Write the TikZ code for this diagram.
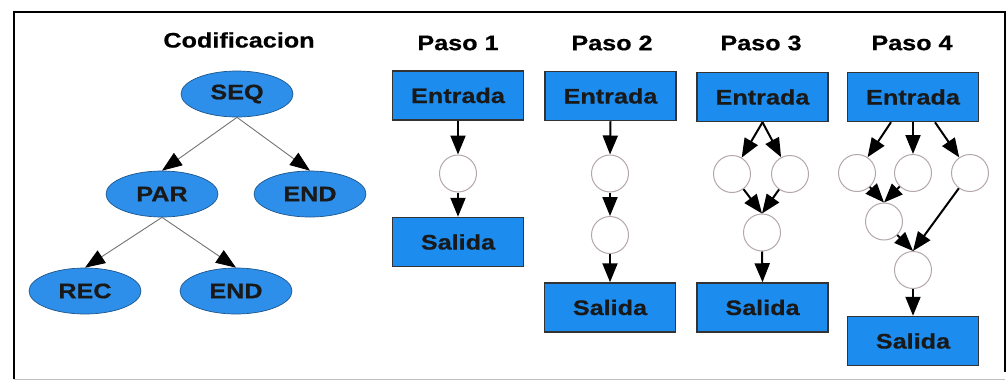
\documentclass[tikz,border=0pt]{standalone}
\usepackage{fontspec}
\setmainfont[FakeStretch=1.2,FakeBold=0.6]{Liberation Sans}
\usetikzlibrary{shapes.geometric,arrows.meta}
\definecolor{ellblue}{HTML}{2E8FEA}
\definecolor{boxblue}{HTML}{1C8CEE}
\definecolor{boxedge}{HTML}{333333}
\definecolor{circedge}{HTML}{B4A6AE}
\begin{document}
\begin{tikzpicture}[x=1pt,y=-1pt,
  txt/.style={font=\fontsize{21}{24}\selectfont\bfseries, text=black!90},
  ttl/.style={font=\fontsize{21}{24}\selectfont\bfseries, text=black},
  ell/.style={ellipse, fill=ellblue, draw=ellblue!60!black, line width=0.7pt, minimum width=112pt, minimum height=46pt, inner sep=0pt, txt},
  stepbox/.style={rectangle, fill=boxblue, draw=boxedge, line width=1.5pt, minimum width=131pt, minimum height=49pt, inner sep=0pt, txt},
  circ/.style={circle, draw=circedge, fill=white, line width=1pt, minimum size=37pt, inner sep=0pt},
  treearr/.style={draw=black!55, line width=0.9pt, -{Triangle[length=20pt,width=15pt,color=black]}},
  flowarr/.style={draw=black, line width=2pt, -{Triangle[length=19pt,width=15pt]}}
]
\useasboundingbox (0,0) rectangle (1008,383);
\fill[white] (0,0) rectangle (1008,383);
% frame
\draw[black!25, line width=1pt] (14,379) -- (1005,379);
\draw[black, line width=2pt] (14,379) -- (14,12) -- (1005,12) -- (1005,372);

% titles
\node[ttl] (tcod) at (239,40) {Codificacion};
\node[ttl] (tp1) at (458,43) {Paso 1};
\node[ttl] (tp2) at (612,43) {Paso 2};
\node[ttl] (tp3) at (761,43) {Paso 3};
\node[ttl] (tp4) at (912,43) {Paso 4};

% tree
\node[ell] (seq) at (237,94) {SEQ};
\node[ell] (par) at (162,194) {PAR};
\node[ell] (end1) at (310,194) {END};
\node[ell] (rec) at (85,291) {REC};
\node[ell] (end2) at (236,291) {END};
\draw[treearr] (seq.south) -- (par.north);
\draw[treearr] (seq.south) -- (end1.north);
\draw[treearr] (par.south) -- (rec.north);
\draw[treearr] (par.south) -- (end2.north);

% Paso 1
\node[stepbox] (e1) at (458,95.5) {Entrada};
\node[circ] (c11) at (458,173.5) {};
\node[stepbox] (s1) at (458,242) {Salida};
\draw[flowarr] (e1.south) -- (c11.north);
\draw[flowarr] (c11.south) -- (s1.north);

% Paso 2
\node[stepbox] (e2) at (610.5,96) {Entrada};
\node[circ] (c21) at (610,173.5) {};
\node[circ] (c22) at (610,235) {};
\node[stepbox] (s2) at (610,307.5) {Salida};
\draw[flowarr] (e2.south) -- (c21.north);
\draw[flowarr] (c21.south) -- (c22.north);
\draw[flowarr] (c22.south) -- (s2.north);

% Paso 3
\node[stepbox] (e3) at (762.5,97) {Entrada};
\node[circ] (c31) at (732,174) {};
\node[circ] (c32) at (790,174) {};
\node[circ] (c33) at (762,232.5) {};
\node[stepbox] (s3) at (762.5,307.5) {Salida};
\draw[flowarr] (e3.south) -- (c31);
\draw[flowarr] (e3.south) -- (c32);
\draw[flowarr] (c31) -- (c33.north);
\draw[flowarr] (c32) -- (c33.north);
\draw[flowarr] (c33.south) -- (s3.north);

% Paso 4
\node[stepbox] (e4) at (913,97) {Entrada};
\node[circ] (c41) at (857,173) {};
\node[circ] (c42) at (913,173) {};
\node[circ] (c43) at (970,173) {};
\node[circ] (c44) at (884,221.5) {};
\node[circ] (c45) at (913,270) {};
\node[stepbox] (s4) at (913,341) {Salida};
\draw[flowarr] ([xshift=-22pt]e4.south) -- (c41);
\draw[flowarr] (e4.south) -- (c42.north);
\draw[flowarr] ([xshift=22pt]e4.south) -- (c43);
\draw[flowarr] (c41) -- (c44.north);
\draw[flowarr] (c42) -- (c44.north);
\draw[flowarr] (c43) -- (c45.north);
\draw[flowarr] (c44) -- (c45.north);
\draw[flowarr] (c45.south) -- (s4.north);
\end{tikzpicture}
\end{document}
